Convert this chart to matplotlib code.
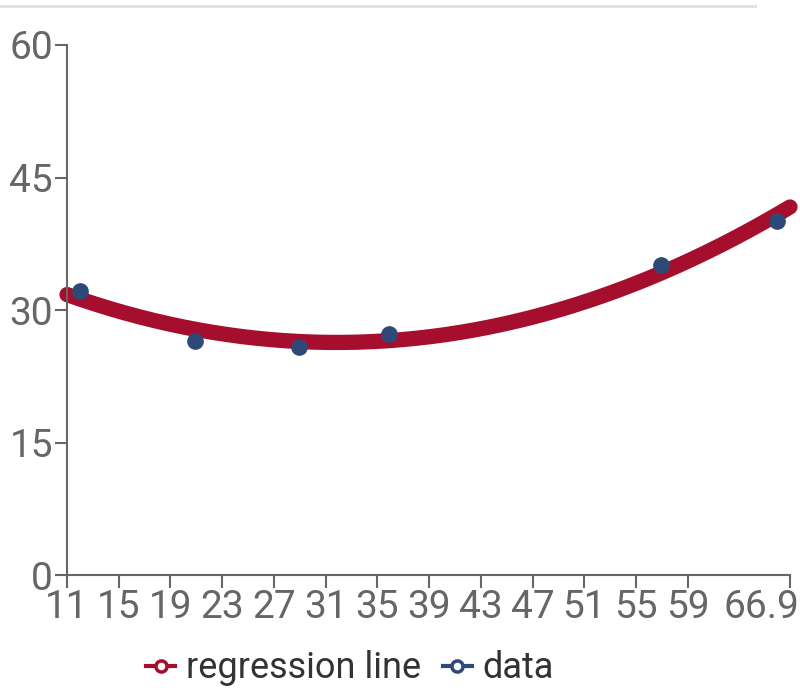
import numpy as np
import matplotlib
matplotlib.use("Agg")
import matplotlib.pyplot as plt
import matplotlib.transforms as mtransforms
from matplotlib.lines import Line2D

plt.rcParams['font.family'] = ['Roboto', 'DejaVu Sans']

# data points
data_x = [12.0, 20.9, 28.9, 35.9, 56.9, 65.9]
data_y = [32.2, 26.5, 25.8, 27.3, 35.1, 40.1]

x_ticks = [11, 15, 19, 23, 27, 31, 35, 39, 43, 47, 51, 55, 59, 66.9]
x_labels = ['11', '15', '19', '23', '27', '31', '35', '39', '43', '47', '51', '55', '59', '66.9']
y_ticks = [0, 15, 30, 45, 60]

line_color = '#a50f2d'
dot_color = '#2d4a77'
axis_color = '#666666'

# quadratic regression through the data
coef = np.polyfit(data_x, data_y, 2)
reg_x = np.linspace(11, 66.9, 200)
reg_y = np.polyval(coef, reg_x)

fig = plt.figure(figsize=(8, 6.88), dpi=100)
ax = fig.add_axes([0.08375, 0.1642, 0.90375, 0.7704])

ax.plot(reg_x, reg_y, color=line_color, linewidth=11, solid_capstyle='round',
        clip_on=False, zorder=2)
ax.plot(data_x, data_y, 'o', color=dot_color, markersize=11, clip_on=False, zorder=3)

ax.set_xlim(11, 66.9)
ax.set_ylim(0, 60)
ax.set_xticks(x_ticks)
ax.set_xticklabels(x_labels)
ax.set_yticks(y_ticks)

for side in ['top', 'right']:
    ax.spines[side].set_visible(False)
for side in ['left', 'bottom']:
    ax.spines[side].set_color(axis_color)
    ax.spines[side].set_linewidth(1.5)
ax.tick_params(axis='both', colors=axis_color, labelcolor=axis_color,
               length=9, width=1.5, labelsize=28, pad=1)

# last x label is pulled inside the figure edge
last = ax.get_xticklabels()[-1]
last.set_ha('right')
last.set_transform(last.get_transform() +
                   mtransforms.ScaledTranslation(9 / 100, 0, fig.dpi_scale_trans))

# thin gray rule at the top
fig.add_artist(Line2D([0, 755 / 800], [1 - 6 / 688, 1 - 6 / 688],
                      transform=fig.transFigure, color='#e0e0e0', linewidth=2))

handles = [
    Line2D([], [], color=line_color, linewidth=3, marker='o', markersize=8,
           markerfacecolor='white', markeredgewidth=2.5),
    Line2D([], [], color=dot_color, linewidth=3, marker='o', markersize=8,
           markerfacecolor='white', markeredgewidth=2.5),
]
fig.legend(handles, ['regression line', 'data'], loc='lower center',
           bbox_to_anchor=(0.4375, -0.045), ncol=2, frameon=False, fontsize=26,
           handlelength=0.8, handletextpad=0.3, columnspacing=0.6,
           labelcolor='#333333')

fig.savefig('out.png', dpi=100)
